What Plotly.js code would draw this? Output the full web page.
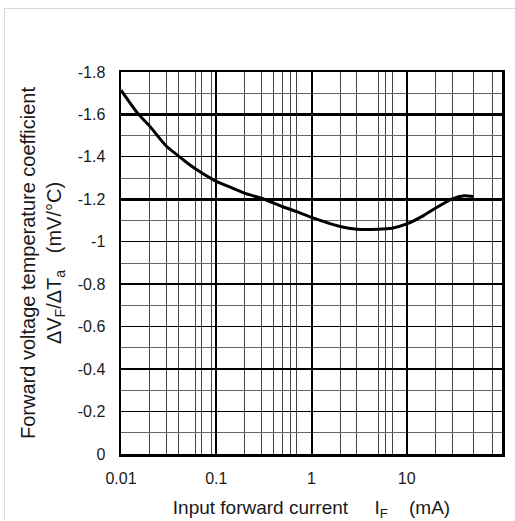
<!DOCTYPE html>
<html>
<head>
<meta charset="utf-8">
<script src="https://cdn.plot.ly/plotly-3.0.1.min.js"></script>
<style>
  html, body { margin: 0; padding: 0; background: #ffffff; }
  #frame { position: absolute; left: 4px; top: 8px; width: 600px; height: 600px;
           border-top: 1px solid #d9d9d9; border-left: 1px solid #d9d9d9; }
  #chart { position: absolute; left: 0; top: 0; width: 515px; height: 521px; }
</style>
</head>
<body>
<div id="frame"></div>
<div id="chart"></div>
<script>
// Forward current IF (mA)
const currentMA = [0.01, 0.015, 0.02, 0.03, 0.04, 0.05, 0.07, 0.1, 0.15, 0.2, 0.3, 0.5, 0.7,
                   1, 2, 3, 5, 7, 10, 15, 20, 30, 40, 50];
// Forward voltage temperature coefficient dVF/dTa (mV/°C)
const tempCoef = [-1.715, -1.605, -1.545, -1.45, -1.405, -1.37, -1.325, -1.285, -1.252, -1.228, -1.205, -1.165, -1.142,
                  -1.115, -1.072, -1.059, -1.059, -1.064, -1.084, -1.123, -1.158, -1.202, -1.217, -1.213];

const xTickVals = [0.01, 0.1, 1, 10, 100];
const xTickText = ["0.01", "0.1", "1", "10", "100"];
const xMinorGrid = [0.02, 0.03, 0.04, 0.06, 0.07, 0.09,
                    0.2, 0.3, 0.4, 0.5, 0.6, 0.7,
                    2, 3, 5, 6, 7,
                    20, 30, 50, 80];
const yTickVals = [0, -0.2, -0.4, -0.6, -0.8, -1, -1.2, -1.4, -1.6, -1.8];
const yTickText = ["0", "-0.2", "-0.4", "-0.6", "-0.8", "-1", "-1.2", "-1.4", "-1.6", "-1.8"];
const yHeavyGrid = [-0.4, -0.8, -1.2, -1.6];

const FONT = "Liberation Sans, Arial, sans-serif";
const TXT = "#1a1a1a";
const NB = "\u00a0";

const traces = [
  { // invisible carrier for the overlay axes (heavy gridlines)
    x: currentMA, y: tempCoef, xaxis: "x2", yaxis: "y2",
    type: "scatter", mode: "lines", line: { color: "rgba(0,0,0,0)", width: 0 },
    hoverinfo: "skip", showlegend: false
  },
  {
    x: currentMA, y: tempCoef, type: "scatter", mode: "lines",
    line: { color: "#000000", width: 3, shape: "spline", smoothing: 0.6 },
    showlegend: false
  }
];

const layout = {
  width: 515, height: 521,
  margin: { l: 121, r: 13, t: 72, b: 67 },
  paper_bgcolor: "rgba(0,0,0,0)", plot_bgcolor: "#ffffff",
  font: { family: FONT, color: TXT, size: 16 },
  showlegend: false,
  xaxis: {
    type: "log", range: [-2, 2],
    tickmode: "array", tickvals: xTickVals, ticktext: xTickText,
    ticks: "", ticklabelstandoff: 8,
    showgrid: true, gridcolor: "#000000", gridwidth: 2,
    minor: { tickmode: "array", tickvals: xMinorGrid, showgrid: true, gridcolor: "#444444", gridwidth: 1, ticks: "" },
    showline: true, mirror: true, linecolor: "#000000", linewidth: 2.5,
    zeroline: false,
    tickfont: { family: FONT, size: 16, color: TXT },
    title: { text: "Input forward current" + NB.repeat(5) + "I<sub>F</sub>" + NB.repeat(4) + "(mA)",
             font: { family: FONT, size: 19, color: TXT }, standoff: 18 }
  },
  yaxis: {
    range: [0, -1.8],
    tickmode: "array", tickvals: yTickVals, ticktext: yTickText,
    ticks: "", ticklabelstandoff: 10,
    showgrid: true, gridcolor: "#000000", gridwidth: 1,
    minor: { dtick: 0.1, tick0: 0, showgrid: true, gridcolor: "#666666", gridwidth: 1, ticks: "" },
    showline: true, mirror: true, linecolor: "#000000", linewidth: 2.5,
    zeroline: false,
    tickfont: { family: FONT, size: 16, color: TXT },
    title: { text: "Forward voltage temperature coefficient<br>" +
                   "ΔV<sub>F</sub>/ΔT<sub>a</sub>" + NB.repeat(3) + "(mV/°C)" + NB.repeat(5),
             font: { family: FONT, size: 20, color: TXT }, standoff: 11 }
  },
  xaxis2: {
    type: "log", range: [-2, 2], overlaying: "x", anchor: "y",
    showticklabels: false, ticks: "", showline: false, zeroline: false,
    showgrid: false
  },
  yaxis2: {
    range: [0, -1.8], overlaying: "y", anchor: "x",
    tickmode: "array", tickvals: yHeavyGrid,
    showticklabels: false, ticks: "", showline: false, zeroline: false,
    showgrid: true, gridcolor: "#000000", gridwidth: 2.5
  }
};

Plotly.newPlot("chart", traces, layout, { staticPlot: true, displayModeBar: false });
</script>
</body>
</html>
